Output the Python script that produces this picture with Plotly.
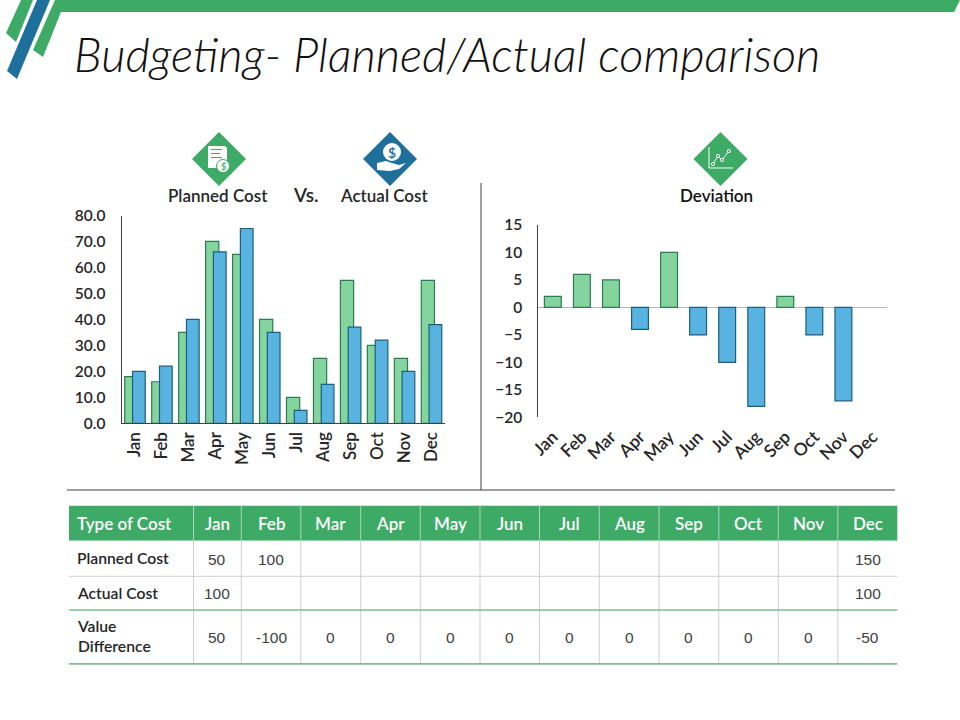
import plotly.graph_objects as go

months = ["Jan", "Feb", "Mar", "Apr", "May", "Jun", "Jul", "Aug", "Sep", "Oct", "Nov", "Dec"]
planned = [18, 16, 35, 70, 65, 40, 10, 25, 55, 30, 25, 55]
actual = [20, 22, 40, 66, 75, 35, 5, 15, 37, 32, 20, 38]
deviation = [2, 6, 5, -4, 10, -5, -10, -18, 2, -5, -17, None]

row_names = ["Planned Cost", "Actual Cost", "Value<br>Difference"]
planned_row = ["50", "100", "", "", "", "", "", "", "", "", "", "150"]
actual_row = ["100", "", "", "", "", "", "", "", "", "", "", "100"]
diff_row = ["50", "-100", "0", "0", "0", "0", "0", "0", "0", "0", "0", "-50"]

GREEN = "#3dab66"
DARK_BLUE = "#1f6f9c"
LIGHT_GREEN = "#84d49e"
LIGHT_BLUE = "#58b3e0"
TEXT = "#262626"
FONT = "Lato"

# table grid in page pixels
col_edges = [69, 193.5, 241.3, 300.8, 360.7, 420.3, 480, 539.5, 599.3, 659, 718.8, 778.3, 837.8, 897.3]
row_edges = [505.7, 540.7, 576.3, 610, 663.8]


def px(x):
    return x / 960


def py(y):
    return 1 - y / 720


def poly(points, color, line=None, width=1, close=True):
    path = "M " + " L ".join(f"{px(x):.5f},{py(y):.5f}" for x, y in points)
    if close:
        path += " Z"
    return dict(type="path", xref="paper", yref="paper", path=path, layer="above",
                fillcolor=color if close else "rgba(0,0,0,0)",
                line=dict(color=line if line else "rgba(0,0,0,0)", width=width))


def hline(x0, x1, y, color, width=1):
    return dict(type="line", xref="paper", yref="paper", x0=px(x0), x1=px(x1), y0=py(y), y1=py(y),
                layer="above", line=dict(color=color, width=width))


def vline(x, y0, y1, color, width=1):
    return dict(type="line", xref="paper", yref="paper", x0=px(x), x1=px(x), y0=py(y0), y1=py(y1),
                layer="above", line=dict(color=color, width=width))


def disc(cx, cy, r, color, line=None, width=1):
    return dict(type="circle", xref="paper", yref="paper", x0=px(cx - r), x1=px(cx + r),
                y0=py(cy + r), y1=py(cy - r), layer="above", fillcolor=color,
                line=dict(color=line if line else "rgba(0,0,0,0)", width=width))


def diamond(cx, cy, color):
    return poly([(cx, cy - 27), (cx + 27, cy), (cx, cy + 27), (cx - 27, cy)], color)


def label(x, y, text, size, color=TEXT, weight=600, style="normal", family=FONT, xanchor="center"):
    return dict(x=px(x), y=py(y), xref="paper", yref="paper", text=text, showarrow=False,
                xanchor=xanchor, yanchor="middle", align=xanchor,
                font=dict(family=family, size=size, color=color, weight=weight, style=style))


fig = go.Figure()

# left chart, green bars sit behind the blue ones
fig.add_trace(go.Bar(x=months, y=planned, width=0.49, offset=-0.38, marker=dict(color=LIGHT_GREEN, line=dict(color="#2c7a56", width=1.2)),
                     xaxis="x", yaxis="y", showlegend=False))
fig.add_trace(go.Bar(x=months, y=actual, width=0.47, offset=-0.09, marker=dict(color=LIGHT_BLUE, line=dict(color="#1b5f7e", width=1.2)),
                     xaxis="x", yaxis="y", showlegend=False))

# right chart
dev_colors = [LIGHT_GREEN if (v or 0) > 0 else LIGHT_BLUE for v in deviation]
dev_lines = ["#2c7a56" if (v or 0) > 0 else "#1b5f7e" for v in deviation]
fig.add_trace(go.Bar(x=months, y=deviation, width=0.58, marker=dict(color=dev_colors, line=dict(color=dev_lines, width=1.2)),
                     xaxis="x2", yaxis="y2", showlegend=False))

shapes = [
    # header strips
    poly([(21, 0), (33, 0), (16, 42), (6, 33)], GREEN),
    poly([(37, 0), (50, 0), (17, 79), (7, 71)], DARK_BLUE),
    poly([(55, 0), (960, 0), (954, 12), (61, 12), (43, 57), (33, 50)], GREEN),
    # dividers
    vline(481, 183, 490, "#404040"),
    hline(67, 895, 490, "#404040"),
    # icons
    diamond(219, 159, GREEN),
    diamond(390, 159, DARK_BLUE),
    diamond(720.5, 159, GREEN),
    # document icon
    poly([(208, 146), (225, 146), (227, 148), (227, 168), (208, 168)], "white"),
    hline(211, 222, 149.5, GREEN, 1),
    hline(211, 220, 153.5, GREEN, 1),
    hline(211, 222, 157.5, GREEN, 1),
    disc(223, 166, 6.5, "white", GREEN, 1),
    # hand and coin icon
    disc(392, 152, 9, "white"),
    poly([(377, 163), (386, 161), (392, 163), (399, 165), (406, 163), (399, 169), (390, 171), (377, 170)], "white"),
    # line chart icon
    poly([(709, 147), (709, 168), (733, 168)], "white", "white", 1, close=False),
    poly([(713, 164), (718, 156), (722, 160), (729, 151)], "white", "white", 1, close=False),
    disc(713, 164, 1.6, GREEN, "white"),
    disc(718, 156, 1.6, GREEN, "white"),
    disc(722, 160, 1.6, GREEN, "white"),
    disc(729, 151, 1.6, GREEN, "white"),
    # table header band
    poly([(col_edges[0], row_edges[0]), (col_edges[-1], row_edges[0]), (col_edges[-1], row_edges[1]), (col_edges[0], row_edges[1])], GREEN),
]

# table grid
for x in col_edges[1:-1]:
    shapes.append(vline(x, row_edges[0], row_edges[1], "#a9d6b8", 1))
    shapes.append(vline(x, row_edges[1], row_edges[4], "#cfcfcf", 1))
shapes.append(hline(col_edges[0], col_edges[-1], row_edges[1], "#a9d6b8", 1))
shapes.append(hline(col_edges[0], col_edges[-1], row_edges[2], "#cfcfcf", 1))
shapes.append(hline(col_edges[0], col_edges[-1], row_edges[3], "#7fbd97", 1.4))
shapes.append(hline(col_edges[0], col_edges[-1], row_edges[4], "#7fbd97", 1.8))

annotations = [
    label(72, 54, "Budgeting- Planned/Actual comparison", 47.1, "#111111", 300, "italic", xanchor="left"),
    label(218, 196, "Planned Cost", 17),
    label(305, 195, "Vs.", 19),
    label(384, 196, "Actual Cost", 17),
    label(716, 196, "Deviation", 17, "#111111"),
    label(223, 166, "$", 9, GREEN),
    label(392, 152, "$", 14, DARK_BLUE),
    label(75, 523.5, "Type of Cost", 17, "white", xanchor="left"),
]

for i, name in enumerate(row_names):
    annotations.append(label(75, (row_edges[i + 1] + row_edges[i + 2]) / 2 - 0.5, name, 15.7, xanchor="left"))

for i, month in enumerate(months):
    cx = (col_edges[i + 1] + col_edges[i + 2]) / 2
    annotations.append(label(cx, 523.5, month, 17, "white"))
    for r, row in enumerate([planned_row, actual_row, diff_row]):
        if row[i]:
            annotations.append(label(cx, (row_edges[r + 1] + row_edges[r + 2]) / 2 + 0.5, row[i], 15.5, "#404040", 400, family="Liberation Sans"))

x_font = dict(family=FONT, size=17, color=TEXT, weight=600)
y_font = dict(family=FONT, size=15.5, color=TEXT, weight=600)

fig.update_layout(
    width=960, height=720, margin=dict(l=0, r=0, t=0, b=0),
    paper_bgcolor="white", plot_bgcolor="white",
    barmode="overlay", showlegend=False,
    shapes=shapes, annotations=annotations,
    xaxis=dict(domain=[px(121.5), px(445)], anchor="y", type="category", automargin=False, showgrid=False, ticks="",
               showline=True, linecolor="#404040", linewidth=1, tickangle=-90, tickfont=x_font, ticklabelstandoff=1),
    yaxis=dict(domain=[py(423.3), py(215.5)], anchor="x", range=[0, 80], dtick=10, tickformat=".1f", automargin=False,
               showgrid=False, ticks="", showline=True, linecolor="#404040", linewidth=1, tickfont=y_font,
               ticklabelstandoff=12, zeroline=False),
    xaxis2=dict(domain=[px(538.3), px(887)], anchor="y2", type="category", automargin=False, showgrid=False, ticks="",
                showline=False, tickangle=-45, tickfont=dict(family=FONT, size=17.5, color=TEXT, weight=600), ticklabelstandoff=5),
    yaxis2=dict(domain=[py(417.3), py(225)], anchor="x2", range=[-20, 15], dtick=5, automargin=False,
                showgrid=False, ticks="", showline=True, linecolor="#404040", linewidth=1, tickfont=y_font,
                ticklabelstandoff=12, zeroline=True, zerolinecolor="#b5b5b5", zerolinewidth=1),
)

# browser default body margin would push the page 8px off
fig.write_html("out.html", post_script="document.body.style.margin = '0';", config=dict(displayModeBar=False))
